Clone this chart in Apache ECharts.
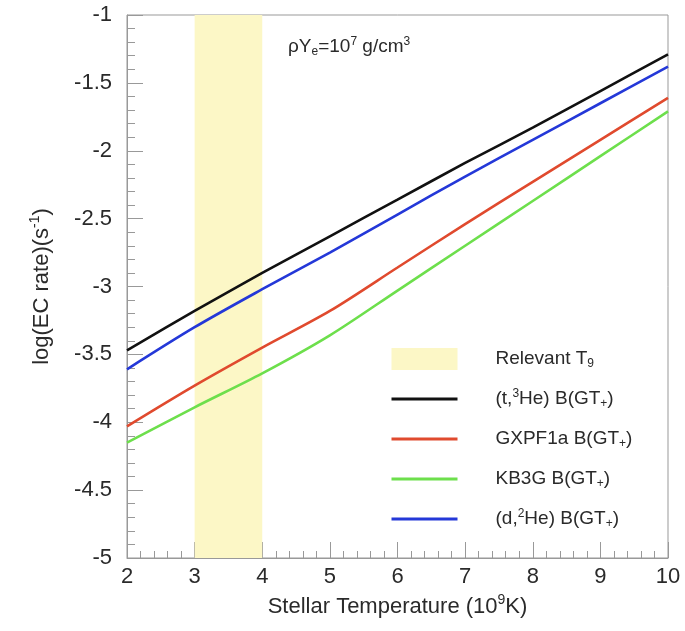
<!DOCTYPE html>
<html>
<head>
<meta charset="utf-8">
<script src="https://cdn.jsdelivr.net/npm/echarts@6/dist/echarts.min.js"></script>
<style>
html,body{margin:0;padding:0;background:#fff;}
#chart{width:685px;height:631px;}
</style>
</head>
<body>
<div id="chart"></div>
<script>
// Data
var temperatures = [2, 3, 4, 5, 6, 7, 8, 9, 10];
var tHe3 = [-3.47, -3.18, -2.90, -2.63, -2.36, -2.09, -1.83, -1.56, -1.29];
var gxpf1a = [-4.03, -3.73, -3.45, -3.18, -2.86, -2.54, -2.23, -1.92, -1.61];
var kb3g = [-4.15, -3.89, -3.64, -3.36, -3.03, -2.70, -2.37, -2.04, -1.71];
var dHe2 = [-3.61, -3.30, -3.02, -2.75, -2.47, -2.19, -1.92, -1.65, -1.38];
var relevantRange = [3, 4];
var xTicks = [2, 3, 4, 5, 6, 7, 8, 9, 10];
var yTicks = [-5, -4.5, -4, -3.5, -3, -2.5, -2, -1.5, -1];

function pairs(xs, ys) { return xs.map(function (x, i) { return [x, ys[i]]; }); }

var font = 'Liberation Sans, Arial, Helvetica, sans-serif';
var txtColor = '#2a2a2a';
function richSet(size) {
  var s = Math.round(size * 0.62);
  return {
    n: { fontFamily: font, fontSize: size, color: txtColor, lineHeight: 22 },
    sup: { fontFamily: font, fontSize: s, color: txtColor, verticalAlign: 'bottom', padding: [0, 0, Math.round(size * 0.5), 0], lineHeight: 22 },
    sub: { fontFamily: font, fontSize: s, color: txtColor, verticalAlign: 'top', padding: [Math.round(size * 0.55), 0, 0, 0], lineHeight: 22 }
  };
}
var legendLabels = {
  'Relevant T9': '{n|Relevant T}{sub|9}',
  'tHe3': '{n|(t,}{sup|3}{n|He) B(GT}{sub|+}{n|)}',
  'GXPF1a': '{n|GXPF1a B(GT}{sub|+}{n|)}',
  'KB3G': '{n|KB3G B(GT}{sub|+}{n|)}',
  'dHe2': '{n|(d,}{sup|2}{n|He) B(GT}{sub|+}{n|)}'
};

var chart = echarts.init(document.getElementById('chart'), null, { renderer: 'canvas' });
var lw = 2.6;
var hidden = { opacity: 0 };
var legLine = { width: 3 };
chart.setOption({
  animation: false,
  backgroundColor: '#fff',
  grid: { left: 127, right: 17, top: 15, bottom: 73, show: true, borderColor: '#999', borderWidth: 1, backgroundColor: 'transparent' },
  title: {
    text: '{n|ρY}{sub|e}{n|=10}{sup|7}{n| g/cm}{sup|3}',
    left: 283, top: 31,
    textStyle: { fontWeight: 'normal', rich: richSet(19) }
  },
  legend: {
    orient: 'vertical',
    left: 390, top: 348,
    padding: 0,
    itemWidth: 66, itemHeight: 22,
    itemGap: 18,
    selectedMode: false,
    formatter: function (name) { return legendLabels[name]; },
    textStyle: { padding: [0, 0, 0, 33], rich: richSet(19) },
    data: [
      { name: 'Relevant T9', icon: 'rect', itemStyle: { color: '#fcf7c6' } },
      { name: 'tHe3', itemStyle: hidden, lineStyle: legLine },
      { name: 'GXPF1a', itemStyle: hidden, lineStyle: legLine },
      { name: 'KB3G', itemStyle: hidden, lineStyle: legLine },
      { name: 'dHe2', itemStyle: hidden, lineStyle: legLine }
    ]
  },
  xAxis: {
    type: 'value', min: 2, max: 10, interval: 1,
    name: '{n|Stellar Temperature (10}{sup|9}{n|K)}',
    nameLocation: 'middle', nameGap: 38,
    nameTextStyle: { rich: richSet(22) },
    axisLine: { show: true, onZero: false, lineStyle: { color: '#999', width: 1 } },
    axisTick: { show: true, inside: true, length: 16, lineStyle: { color: '#999' } },
    minorTick: { show: true, splitNumber: 5, length: 7, lineStyle: { color: '#999' } },
    axisLabel: { fontFamily: font, fontSize: 22, color: txtColor, margin: 8 },
    splitLine: { show: false }
  },
  yAxis: {
    type: 'value', min: -5, max: -1, interval: 0.5,
    name: '{n|log(EC rate)(s}{sup|-1}{n|)}',
    nameLocation: 'middle', nameGap: 74, nameRotate: 90,
    nameTextStyle: { rich: richSet(22) },
    axisLine: { show: true, onZero: false, lineStyle: { color: '#999', width: 1 } },
    axisTick: { show: true, inside: true, length: 16, lineStyle: { color: '#999' } },
    minorTick: { show: true, splitNumber: 5, length: 8, lineStyle: { color: '#999' } },
    axisLabel: { fontFamily: font, fontSize: 22, color: txtColor, margin: 15 },
    splitLine: { show: false }
  },
  series: [
    {
      name: 'Relevant T9', type: 'line', data: [], symbol: 'none',
      itemStyle: { color: '#fcf7c6' },
      markArea: {
        silent: true,
        itemStyle: { color: '#fcf7c6', opacity: 1 },
        data: [[{ xAxis: relevantRange[0] }, { xAxis: relevantRange[1] }]]
      },
      z: 1
    },
    { name: 'tHe3', type: 'line', data: pairs(temperatures, tHe3), symbol: 'none', smooth: 0.3, lineStyle: { color: '#111', width: lw }, itemStyle: { color: '#111' }, z: 5 },
    { name: 'GXPF1a', type: 'line', data: pairs(temperatures, gxpf1a), symbol: 'none', smooth: 0.3, lineStyle: { color: '#e04a2e', width: lw }, itemStyle: { color: '#e04a2e' }, z: 5 },
    { name: 'KB3G', type: 'line', data: pairs(temperatures, kb3g), symbol: 'none', smooth: 0.3, lineStyle: { color: '#6ddf4c', width: lw }, itemStyle: { color: '#6ddf4c' }, z: 5 },
    { name: 'dHe2', type: 'line', data: pairs(temperatures, dHe2), symbol: 'none', smooth: 0.3, lineStyle: { color: '#2438d8', width: lw }, itemStyle: { color: '#2438d8' }, z: 5 }
  ]
});
</script>
</body>
</html>
